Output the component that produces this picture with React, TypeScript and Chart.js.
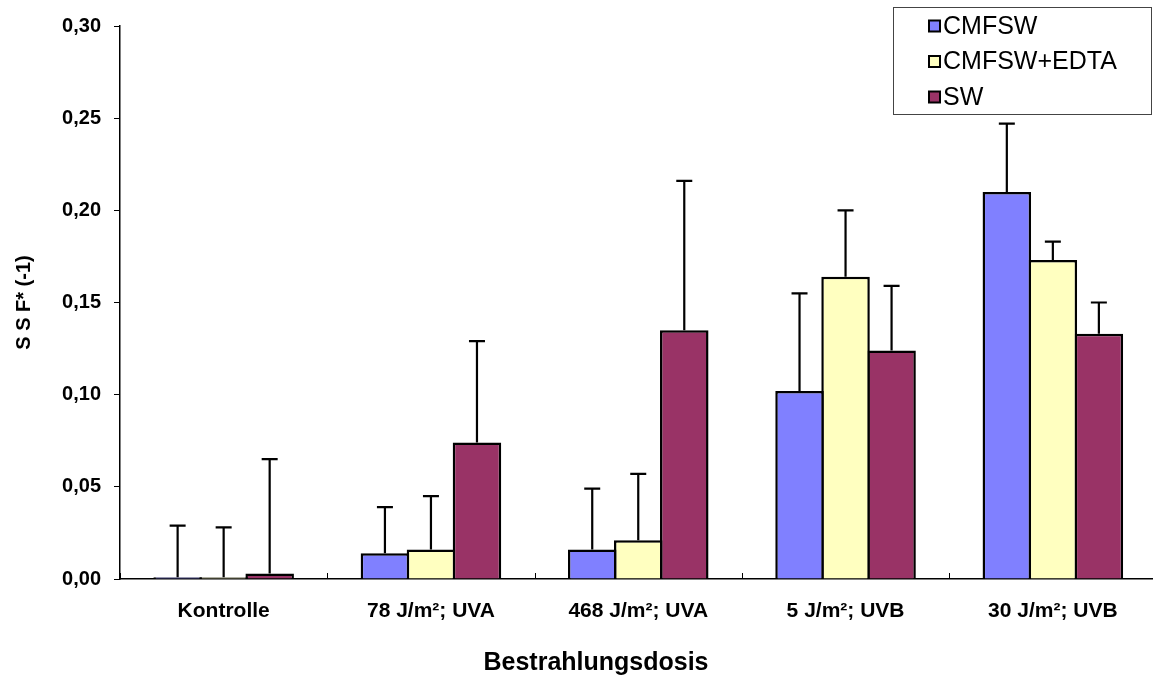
import React, { useEffect, useRef } from "react";
import { Chart, registerables } from "chart.js";

Chart.register(...registerables);

const categories = ["Kontrolle", "78 J/m²; UVA", "468 J/m²; UVA", "5 J/m²; UVB", "30 J/m²; UVB"];
const seriesNames = ["CMFSW", "CMFSW+EDTA", "SW"];
const cmfswValues = [0.001, 0.014, 0.016, 0.102, 0.21];
const cmfswErrors = [0.028, 0.025, 0.033, 0.053, 0.037];
const edtaValues = [0.001, 0.016, 0.021, 0.164, 0.173];
const edtaErrors = [0.027, 0.029, 0.036, 0.036, 0.01];
const swValues = [0.003, 0.074, 0.135, 0.124, 0.133];
const swErrors = [0.062, 0.055, 0.081, 0.035, 0.017];
const yMin = 0;
const yMax = 0.3;
const yStep = 0.05;
const xTitle = "Bestrahlungsdosis";
const yTitle = "S S F* (-1)";

const seriesColors = ["#8080FF", "#FFFFC0", "#993366"];
const FONT = '"Liberation Sans", Arial, sans-serif';
const BORDER = 2.5;

const errorsBySeries = [cmfswErrors, edtaErrors, swErrors];

const errorBarPlugin = {
  id: "errorBars",
  afterDatasetsDraw(chart: any) {
    const ctx = chart.ctx;
    const ys = chart.scales.y;
    chart.data.datasets.forEach((ds: any, di: number) => {
      const meta = chart.getDatasetMeta(di);
      const errs = errorsBySeries[di];
      meta.data.forEach((bar: any, i: number) => {
        const v = ds.data[i];
        const e = errs[i];
        const x = bar.x;
        const y0 = ys.getPixelForValue(v);
        const y1 = ys.getPixelForValue(v + e);
        ctx.save();
        ctx.strokeStyle = "#000";
        ctx.lineWidth = 2.2;
        ctx.beginPath();
        ctx.moveTo(x, y0);
        ctx.lineTo(x, y1);
        ctx.moveTo(x - 8, y1);
        ctx.lineTo(x + 8, y1);
        ctx.stroke();
        ctx.restore();
      });
    });
  },
};

const decorPlugin = {
  id: "decor",
  afterDraw(chart: any) {
    const ctx = chart.ctx;
    const xs = chart.scales.x;
    const area = chart.chartArea;
    // inside tick marks at category boundaries
    ctx.save();
    ctx.strokeStyle = "#000";
    ctx.lineWidth = 1;
    for (let i = 0; i <= categories.length; i++) {
      const px = Math.round(xs.getPixelForValue(i - 0.5)) + 0.5;
      ctx.beginPath();
      ctx.moveTo(px, area.bottom);
      ctx.lineTo(px, area.bottom - 6);
      ctx.stroke();
    }
    ctx.restore();

    // axis titles
    ctx.save();
    ctx.fillStyle = "#000";
    ctx.font = `bold 25px ${FONT}`;
    ctx.textAlign = "center";
    ctx.textBaseline = "middle";
    ctx.fillText(xTitle, 596, 663);
    ctx.translate(24, (area.top + area.bottom) / 2);
    ctx.rotate(-Math.PI / 2);
    ctx.font = `bold 20px ${FONT}`;
    ctx.fillText(yTitle, 0, 0);
    ctx.restore();

    // legend
    ctx.save();
    const bx = 893.5, by = 7.5, bw = 258, bh = 107;
    ctx.fillStyle = "#fff";
    ctx.fillRect(bx, by, bw, bh);
    ctx.strokeStyle = "#444";
    ctx.lineWidth = 1;
    ctx.strokeRect(bx, by, bw, bh);
    ctx.font = `25px ${FONT}`;
    ctx.textAlign = "left";
    ctx.textBaseline = "middle";
    seriesNames.forEach((name, i) => {
      const cy = 26 + i * 35.5;
      ctx.fillStyle = seriesColors[i];
      ctx.fillRect(929, cy - 5.5, 11, 11);
      ctx.strokeStyle = "#000";
      ctx.lineWidth = 2;
      ctx.strokeRect(929, cy - 5.5, 11, 11);
      ctx.fillStyle = "#000";
      ctx.fillText(name, 943, cy + 1);
    });
    ctx.restore();
  },
};

export default function App() {
  const canvasRef = useRef<HTMLCanvasElement | null>(null);

  useEffect(() => {
    const canvas = canvasRef.current;
    if (!canvas) return;
    const valuesBySeries = [cmfswValues, edtaValues, swValues];
    const chart = new Chart(canvas, {
      type: "bar",
      data: {
        labels: categories,
        datasets: seriesNames.map((name, i) => ({
          label: name,
          data: valuesBySeries[i],
          backgroundColor: seriesColors[i],
          borderColor: "#000",
          borderWidth: { top: BORDER, left: BORDER, right: BORDER, bottom: 0 },
          borderSkipped: "start",
          categoryPercentage: 0.666,
          barPercentage: (46 + BORDER) / 46,
        })),
      },
      options: {
        responsive: false,
        animation: false,
        devicePixelRatio: 1,
        layout: { padding: { left: 0, top: 26, right: 3.5, bottom: 0 } },
        plugins: {
          legend: { display: false },
          title: { display: false },
          tooltip: { enabled: false },
        },
        scales: {
          x: {
            grid: { display: true, drawOnChartArea: false, drawTicks: false },
            border: { display: true, color: "#000", width: 1.5 },
            ticks: {
              color: "#000",
              font: { family: FONT, size: 21, weight: "bold" },
              padding: 20,
              maxRotation: 0,
              autoSkip: false,
            },
            afterFit: (scale: any) => {
              scale.height = 98;
            },
          },
          y: {
            min: yMin,
            max: yMax,
            grid: { display: true, drawOnChartArea: false, drawTicks: true, tickLength: 6, color: "#000" },
            border: { display: true, color: "#000", width: 1.5 },
            ticks: {
              stepSize: yStep,
              color: "#000",
              padding: 13,
              font: { family: FONT, size: 20, weight: "bold" },
              callback: (v: any) => Number(v).toFixed(2).replace(".", ","),
            },
            afterFit: (scale: any) => {
              scale.width = 120;
            },
          },
        },
      },
      plugins: [errorBarPlugin, decorPlugin],
    });
    return () => chart.destroy();
  }, []);

  return (
    <div style={{ position: "fixed", left: 0, top: 0, width: 1153, height: 677, overflow: "hidden", background: "#fff" }}>
      <canvas ref={canvasRef} width={1160} height={677} style={{ display: "block" }} />
    </div>
  );
}
